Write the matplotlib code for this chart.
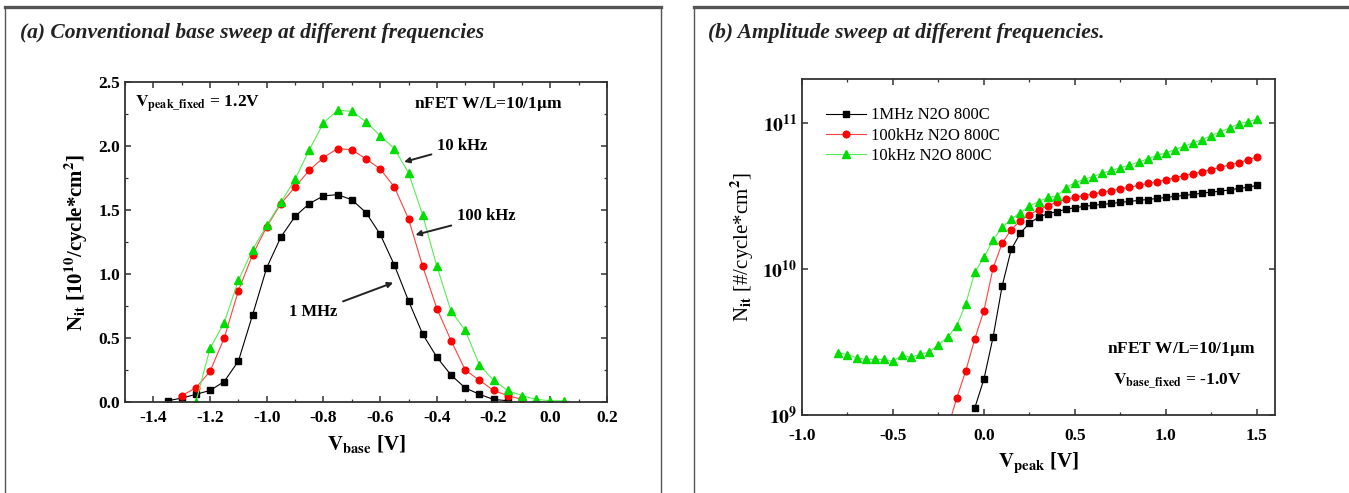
import numpy as np
import matplotlib
matplotlib.use("Agg")
import matplotlib.pyplot as plt
from matplotlib.lines import Line2D
from matplotlib.ticker import MultipleLocator, LogLocator, NullFormatter

plt.rcParams['font.family'] = ['Liberation Serif', 'DejaVu Serif']
plt.rcParams['mathtext.fontset'] = 'stix'
plt.rcParams['font.weight'] = 'bold'

# ---- panel (a): base sweep, Nit in 1e10/cycle*cm2 ----
vb_1m = np.round(np.arange(-1.35, -0.149, 0.05), 2)
nit_1m = [0.01, 0.03, 0.06, 0.09, 0.16, 0.32, 0.68, 1.05, 1.29, 1.45, 1.55, 1.61, 1.62,
          1.58, 1.48, 1.31, 1.07, 0.79, 0.53, 0.35, 0.21, 0.11, 0.06, 0.02, 0.01]
vb_100k = np.round(np.arange(-1.30, -0.099, 0.05), 2)
nit_100k = [0.05, 0.11, 0.24, 0.50, 0.87, 1.15, 1.37, 1.55, 1.68, 1.81, 1.91, 1.98, 1.97,
            1.90, 1.82, 1.68, 1.43, 1.06, 0.73, 0.48, 0.25, 0.17, 0.09, 0.05, 0.02]
vb_10k = np.round(np.arange(-1.25, 0.051, 0.05), 2)
nit_10k = [0.0, 0.42, 0.62, 0.95, 1.19, 1.38, 1.56, 1.74, 1.97, 2.18, 2.28, 2.27, 2.19,
           2.08, 1.98, 1.79, 1.46, 1.06, 0.71, 0.56, 0.29, 0.17, 0.09, 0.05, 0.02, 0.01, 0.01]
xticks_a = [-1.4, -1.2, -1.0, -0.8, -0.6, -0.4, -0.2, 0.0, 0.2]
xlabels_a = ['-1.4', '-1.2', '-1.0', '-0.8', '-0.6', '-0.4', '-0.2', '0.0', '0.2']

# ---- panel (b): amplitude sweep, Nit in units of 1e10 ----
vp_1m = np.round(np.arange(-0.05, 1.501, 0.05), 2)
amp_1m = [0.112, 0.176, 0.34, 0.762, 1.36, 1.76, 2.06, 2.26, 2.39, 2.47, 2.56, 2.63,
          2.68, 2.73, 2.77, 2.81, 2.86, 2.90, 2.95, 2.99, 3.04, 3.09, 3.14, 3.19, 3.24,
          3.31, 3.36, 3.41, 3.48, 3.56, 3.63, 3.73]
vp_100k = np.round(np.arange(-0.20, 1.501, 0.05), 2)
amp_100k = [0.08, 0.13, 0.20, 0.333, 0.518, 1.01, 1.50, 1.86, 2.14, 2.36, 2.54, 2.71, 2.86,
            3.00, 3.09, 3.18, 3.26, 3.35, 3.44, 3.53, 3.63, 3.73, 3.85, 3.96, 4.08, 4.21,
            4.35, 4.49, 4.63, 4.80, 4.97, 5.15, 5.35, 5.56, 5.86]
vp_10k = np.round(np.arange(-0.80, 1.501, 0.05), 2)
amp_10k = [0.266, 0.259, 0.247, 0.240, 0.240, 0.240, 0.233, 0.257, 0.248, 0.261, 0.270,
           0.303, 0.340, 0.407, 0.577, 0.95, 1.20, 1.58, 1.93, 2.19, 2.43, 2.69, 2.89,
           3.09, 3.15, 3.60, 3.90, 4.11, 4.29, 4.52, 4.73, 4.93, 5.14, 5.39, 5.68, 5.99,
           6.24, 6.57, 6.92, 7.31, 7.69, 8.20, 8.69, 9.25, 9.84, 10.2, 10.6]
xticks_b = [-1.0, -0.5, 0.0, 0.5, 1.0, 1.5]
xlabels_b = ['-1.0', '-0.5', '0.0', '0.5', '1.0', '1.5']

W, H = 1349, 493
fig = plt.figure(figsize=(W / 100, H / 100), dpi=100)

# panel frames
def frame(x0, x1):
    fig.add_artist(Line2D([x0 / W, x1 / W], [1 - 6.5 / H] * 2, color='#555555', lw=2.4))
    fig.add_artist(Line2D([x0 / W] * 2, [0, 1 - 6.5 / H], color='#555555', lw=1.0))
    fig.add_artist(Line2D([x1 / W] * 2, [0, 1 - 6.5 / H], color='#555555', lw=1.0))

frame(5, 661)
frame(694, 1352)

fig.text(20 / W, 1 - 33 / H, '(a) Conventional base sweep at different frequencies',
         fontsize=15.5, style='italic', weight='bold', va='center', color='#222222')
fig.text(708 / W, 1 - 33 / H, '(b) Amplitude sweep at different frequencies.',
         fontsize=15.5, style='italic', weight='bold', va='center', color='#222222')


def style_axes(ax):
    for s in ax.spines.values():
        s.set_linewidth(1.3)
        s.set_color('#333333')
    ax.tick_params(which='both', direction='in', top=True, right=True, colors='#333333',
                   labelcolor='black', labelsize=12.5)
    ax.tick_params(which='major', length=4, width=1.1)
    ax.tick_params(which='minor', length=2.5, width=0.9)


# ---- (a) ----
ax1 = fig.add_axes([125 / W, 1 - 402 / H, 482 / W, 320 / H])
ax1.plot(vb_1m, nit_1m, '-s', color='black', lw=0.8, ms=4.5)
ax1.plot(vb_100k, nit_100k, '-o', color='#ff4040', mfc='red', mec='red', lw=0.8, ms=4.8)
ax1.plot(vb_10k, nit_10k, '-^', color='#55ee55', mfc='#00dd00', mec='#00dd00', lw=0.8, ms=5.5)
ax1.set_xlim(-1.5, 0.2)
ax1.set_ylim(0, 2.5)
ax1.xaxis.set_minor_locator(MultipleLocator(0.1))
ax1.yaxis.set_major_locator(MultipleLocator(0.5))
ax1.yaxis.set_minor_locator(MultipleLocator(0.25))
ax1.set_xticks(xticks_a)
ax1.set_xticklabels(xlabels_a, fontweight='bold')
style_axes(ax1)
ax1.tick_params(axis='x', pad=6)
ax1.set_xlabel(r'$\mathbf{V_{base}}$ [V]', fontsize=15, weight='bold', labelpad=5)
ax1.set_ylabel(r'$\mathbf{N_{it}}$ [10$^{\mathbf{10}}$/cycle*cm$^{\mathbf{2}}$]',
               fontsize=15, weight='bold', labelpad=6)
ax1.text(0.02, 0.93, r'$\mathbf{V_{peak\_fixed}}$ = 1.2V', transform=ax1.transAxes,
         fontsize=12.5, weight='bold', va='center')
ax1.text(0.60, 0.93, 'nFET W/L=10/1$\\mathbf{\\mu}$m', transform=ax1.transAxes,
         fontsize=12.5, weight='bold', va='center')

arrow = dict(arrowstyle='-|>', color='#222222', lw=1.4, mutation_scale=8)
ax1.annotate('10 kHz', xy=(-0.525, 1.87), xytext=(-0.40, 2.0), fontsize=12,
             weight='bold', va='center', arrowprops=arrow)
ax1.annotate('100 kHz', xy=(-0.485, 1.30), xytext=(-0.33, 1.45), fontsize=12,
             weight='bold', va='center', arrowprops=arrow)
ax1.annotate('1 MHz', xy=(-0.545, 0.94), xytext=(-0.92, 0.70), fontsize=12,
             weight='bold', va='center', arrowprops=arrow)

# ---- (b) ----
ax2 = fig.add_axes([802 / W, 1 - 415 / H, 473 / W, 336 / H])
sc = 1e10
ax2.plot(vp_1m, np.array(amp_1m) * sc, '-s', color='black', lw=0.8, ms=4.5,
         label='1MHz N2O 800C')
ax2.plot(vp_100k, np.array(amp_100k) * sc, '-o', color='#ff4040', mfc='red', mec='red',
         lw=0.8, ms=4.8, label='100kHz N2O 800C')
ax2.plot(vp_10k, np.array(amp_10k) * sc, '-^', color='#55ee55', mfc='#00dd00',
         mec='#00dd00', lw=0.8, ms=5.5, label='10kHz N2O 800C')
ax2.set_yscale('log')
ax2.set_xlim(-1.0, 1.6)
ax2.set_ylim(1e9, 2e11)
ax2.xaxis.set_minor_locator(MultipleLocator(0.25))
ax2.yaxis.set_minor_locator(LogLocator(base=10, subs=np.arange(2, 10)))
ax2.yaxis.set_minor_formatter(NullFormatter())
ax2.set_xticks(xticks_b)
ax2.set_xticklabels(xlabels_b, fontweight='bold')
ax2.set_yticks([1e9, 1e10, 1e11])
ax2.set_yticklabels([r'$\mathbf{10^{9}}$', r'$\mathbf{10^{10}}$', r'$\mathbf{10^{11}}$'])
style_axes(ax2)
ax2.tick_params(axis='y', labelsize=14)
ax2.tick_params(axis='x', pad=9)
ax2.tick_params(which='minor', length=0, axis='y')
ax2.set_xlabel(r'$\mathbf{V_{peak}}$ [V]', fontsize=15, weight='bold', labelpad=5)
ax2.set_ylabel(r'N$_{\mathrm{it}}$ [#/cycle*cm$^{2}$]', fontsize=15, weight='normal',
               labelpad=4)
ax2.legend(loc='upper left', frameon=False, prop={'size': 12, 'weight': 'normal'},
           handlelength=2.4, handletextpad=0.3, labelspacing=0.25, borderaxespad=0.5,
           bbox_to_anchor=(0.02, 0.96))
ax2.text(0.96, 0.195, 'nFET W/L=10/1$\\mathbf{\\mu}$m', transform=ax2.transAxes,
         fontsize=12.5, weight='bold', ha='right', va='center')
ax2.text(0.93, 0.10, r'$\mathbf{V_{base\_fixed}}$ = -1.0V', transform=ax2.transAxes,
         fontsize=12.5, weight='bold', ha='right', va='center')

fig.savefig('out.png', dpi=100)
